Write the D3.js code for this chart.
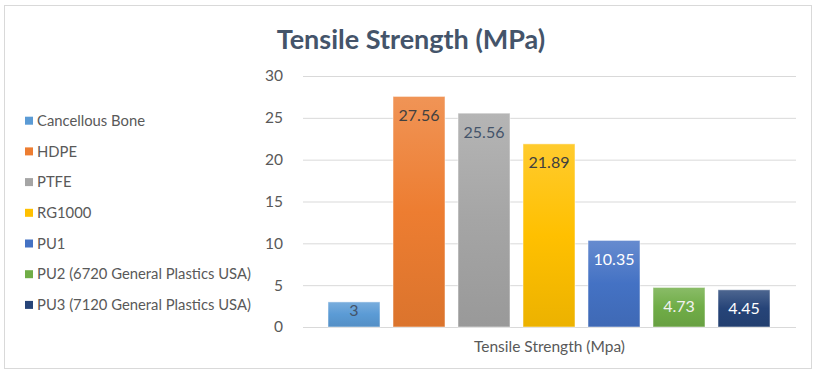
<!DOCTYPE html>
<html lang="en">
<head>
<meta charset="UTF-8">
<title>Tensile Strength (MPa)</title>
<script src="https://d3js.org/d3.v7.min.js"></script>
<style>
  body { margin: 0; background: #fff; }
  text { font-family: Lato, "Open Sans", sans-serif; }
</style>
</head>
<body>
<div id="chart"></div>
<script>
const materials = ["Cancellous Bone", "HDPE", "PTFE", "RG1000", "PU1",
                   "PU2 (6720 General Plastics USA)", "PU3 (7120 General Plastics USA)"];
const strength = [3, 27.56, 25.56, 21.89, 10.35, 4.73, 4.45];
const colours = ["#5B9BD5", "#ED7D31", "#A5A5A5", "#FFC000", "#4472C4", "#70AD47", "#264478"];
const labelColours = ["#44546A", "#404040", "#44546A", "#404040", "#ffffff", "#f2f2f2", "#ffffff"];
const yTicks = [0, 5, 10, 15, 20, 25, 30];

const w = 821, h = 373;

const svg = d3.select("#chart").append("svg")
  .attr("width", w)
  .attr("height", h);

// chart frame
svg.append("rect")
  .attr("x", 4.5).attr("y", 5.5)
  .attr("width", 807).attr("height", 363)
  .attr("fill", "#fff")
  .attr("stroke", "#d9d9d9");

// gradients like excel's preset fill
const defs = svg.append("defs");
colours.forEach((c, i) => {
  const g = defs.append("linearGradient")
    .attr("id", "grad" + i)
    .attr("x1", 0).attr("y1", 0).attr("x2", 0).attr("y2", 1);
  g.append("stop").attr("offset", "0%").attr("stop-color", d3.interpolateRgb(c, "#fff")(0.18));
  g.append("stop").attr("offset", "50%").attr("stop-color", c);
  g.append("stop").attr("offset", "100%").attr("stop-color", d3.color(c).darker(0.22));
});

const yscale = d3.scaleLinear()
  .domain([0, 30])
  .range([327, 76]);

const xscale = d3.scaleBand()
  .domain(materials)
  .range([321.5, 776.5])
  .paddingInner(0.2)
  .paddingOuter(0.1);

// gridlines + tick labels
const Yaxis = d3.axisLeft(yscale)
  .tickValues(yTicks)
  .tickSize(-(796 - 303))
  .tickPadding(20);

const ya = svg.append("g")
  .attr("transform", "translate(303,0)")
  .call(Yaxis);
ya.select(".domain").remove();
ya.selectAll(".tick line").attr("stroke", "#d9d9d9");
ya.selectAll(".tick text")
  .attr("fill", "#595959")
  .style("font-size", "15.5px");

// bars
svg.selectAll("rect.bar")
  .data(strength)
  .enter()
  .append("rect")
  .attr("class", "bar")
  .attr("x", (d, i) => xscale(materials[i]))
  .attr("y", d => yscale(d))
  .attr("width", xscale.bandwidth())
  .attr("height", d => yscale(0) - yscale(d))
  .attr("fill", (d, i) => "url(#grad" + i + ")")
  .attr("stroke", "rgba(255,255,255,0.5)")
  .attr("stroke-width", 1);

// data labels (inside end)
svg.selectAll("text.lbl")
  .data(strength)
  .enter()
  .append("text")
  .attr("class", "lbl")
  .attr("x", (d, i) => xscale(materials[i]) + xscale.bandwidth() / 2)
  .attr("y", d => {
    const bh = yscale(0) - yscale(d);
    return yscale(d) + (bh < 30 ? bh / 3 : 19);
  })
  .attr("dy", "0.35em")
  .attr("text-anchor", "middle")
  .attr("fill", (d, i) => labelColours[i])
  .style("font-size", "16px")
  .text(d => d);

// title
svg.append("text")
  .attr("x", 411)
  .attr("y", 49)
  .attr("text-anchor", "middle")
  .attr("fill", "#44546A")
  .style("font-size", "27px")
  .style("font-weight", "bold")
  .text("Tensile Strength (MPa)");

// x axis title
svg.append("text")
  .attr("x", (303 + 796) / 2)
  .attr("y", 347)
  .attr("dy", "0.35em")
  .attr("text-anchor", "middle")
  .attr("fill", "#595959")
  .style("font-size", "15.5px")
  .text("Tensile Strength (Mpa)");

// legend
const legend = svg.selectAll("g.leg")
  .data(materials)
  .enter()
  .append("g")
  .attr("class", "leg")
  .attr("transform", (d, i) => `translate(25, ${120.7 + i * 30.7})`);

legend.append("rect")
  .attr("x", 0).attr("y", -4)
  .attr("width", 8).attr("height", 8)
  .attr("fill", (d, i) => colours[i]);

legend.append("text")
  .attr("x", 12)
  .attr("dy", "0.35em")
  .attr("fill", "#595959")
  .style("font-size", "14.8px")
  .text(d => d);
</script>
</body>
</html>
